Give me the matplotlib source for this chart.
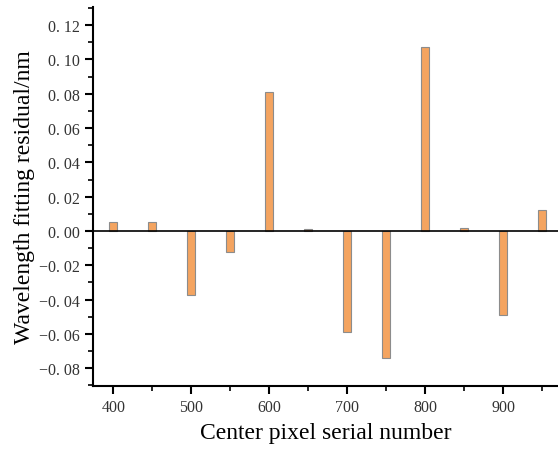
import matplotlib.pyplot as plt
from matplotlib.ticker import MultipleLocator, FuncFormatter

pixels = [400, 450, 500, 550, 600, 650, 700, 750, 800, 850, 900, 950]
residuals = [0.005, 0.005, -0.037, -0.012, 0.081, 0.001, -0.059, -0.074, 0.107, 0.002, -0.049, 0.012]

plt.rcParams['font.family'] = ['Liberation Serif', 'DejaVu Serif']

fig = plt.figure(figsize=(5.58, 4.52), dpi=100)
ax = fig.add_axes([0.1667, 0.1438, 0.8333, 0.8385])

ax.bar(pixels, residuals, width=10, color='#F4A460', edgecolor='#8c8c8c', linewidth=0.8, zorder=2)
ax.axhline(0, color='black', linewidth=1.2, zorder=3)

ax.set_xlim(374, 970)
ax.set_ylim(-0.0903, 0.1305)

ax.spines['top'].set_visible(False)
ax.spines['right'].set_visible(False)
ax.spines['left'].set_linewidth(1.5)
ax.spines['bottom'].set_linewidth(1.5)

ax.xaxis.set_major_locator(MultipleLocator(100))
ax.xaxis.set_minor_locator(MultipleLocator(50))
ax.yaxis.set_major_locator(MultipleLocator(0.02))
ax.yaxis.set_minor_locator(MultipleLocator(0.01))

def yfmt(v, pos):
    s = '%.2f' % abs(v)
    s = s.replace('.', '. ')
    if v < -1e-9:
        s = '\u2212' + s
    return s

ax.yaxis.set_major_formatter(FuncFormatter(yfmt))
ax.tick_params(axis='both', which='major', direction='out', length=6, width=1.5, labelsize=11.5, colors='black')
ax.tick_params(axis='both', which='minor', direction='out', length=3.5, width=1.2)
for lab in ax.get_xticklabels() + ax.get_yticklabels():
    lab.set_color('#333333')

ax.set_xlabel('Center pixel serial number', fontsize=17, labelpad=5)
ax.set_ylabel('Wavelength fitting residual/nm', fontsize=17, labelpad=3)

fig.savefig('out.png', dpi=100)
